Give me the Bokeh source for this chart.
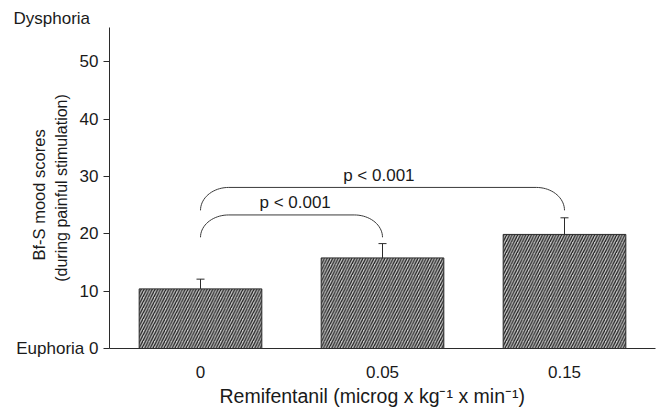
import numpy as np
from bokeh.plotting import figure
from bokeh.models import Range1d, Label, FixedTicker, Title
from bokeh.embed import file_html
from bokeh.resources import INLINE

# ---- data ----
doses = ["0", "0.05", "0.15"]
means = [10.4, 15.8, 19.9]
errors = [1.7, 2.5, 2.9]
bracket_pairs = [(0, 1), (0, 2)]
bracket_foot = [19.4, 24.1]
bracket_top = [23.3, 28.1]
bracket_text = ["p < 0.001", "p < 0.001"]
y_ticks = [0, 10, 20, 30, 40, 50]

FONT = "Liberation Sans"
DARK = "#2b2b2b"
TXT = "#1a1a1a"

p = figure(width=657, height=414, output_backend="svg", toolbar_location=None,
           x_range=Range1d(-0.5, 2.5), y_range=Range1d(0, 56),
           min_border_left=109, min_border_right=2, min_border_top=27,
           min_border_bottom=66)
p.outline_line_color = None
p.grid.visible = False
p.background_fill_color = "white"
p.border_fill_color = "white"

x = np.arange(len(doses))
p.vbar(x=x, top=means, width=0.674, bottom=0, fill_color="#c8c8c8",
       line_color=DARK, line_width=1, hatch_pattern="/", hatch_color="#1e1e1e",
       hatch_scale=5.5, hatch_weight=1.3)

tops = [m + e for m, e in zip(means, errors)]
p.segment(x0=x, y0=means, x1=x, y1=tops, line_color=DARK, line_width=1)
p.segment(x0=x - 0.022, y0=tops, x1=x + 0.022, y1=tops, line_color=DARK, line_width=1)

# brackets
rx = 0.155
t = np.linspace(0, np.pi / 2, 20)
text_dx = [0.02, -0.02]
for (a, b), foot, top, txt, dx in zip(bracket_pairs, bracket_foot, bracket_top,
                                      bracket_text, text_dx):
    ry = top - foot
    lx = a + rx - rx * np.cos(t)
    ly = foot + ry * np.sin(t)
    rxs = b - rx + rx * np.cos(t[::-1])
    rys = foot + ry * np.sin(t[::-1])
    xs = np.concatenate([lx, rxs])
    ys = np.concatenate([ly, rys])
    p.line(xs, ys, line_color="#3a3a3a", line_width=1)
    p.add_layout(Label(x=(a + b) / 2 + dx, y=top + 2.1, text=txt, text_align="center",
                       text_baseline="alphabetic", text_font=FONT,
                       text_font_size="17px", text_color=TXT))

# axes
p.xaxis.ticker = FixedTicker(ticks=list(x))
p.xaxis.major_label_overrides = {int(i): d for i, d in zip(x, doses)}
p.xaxis.major_tick_line_color = None
p.xaxis.minor_tick_line_color = None
p.xaxis.axis_line_color = DARK
p.xaxis.major_label_standoff = 11
p.xaxis.major_label_text_font = FONT
p.xaxis.major_label_text_font_size = "17px"
p.xaxis.major_label_text_color = TXT

p.add_layout(Title(text="Remifentanil (microg x kg\u207b\u00b9 x min\u207b\u00b9)",
                   align="left", offset=110, text_font=FONT,
                   text_font_style="normal", text_font_size="19.5px",
                   text_color=TXT, standoff=4), "below")

p.yaxis.ticker = FixedTicker(ticks=y_ticks)
p.yaxis.major_label_overrides = {0: "Euphoria 0"}
p.yaxis.minor_tick_line_color = None
p.yaxis.major_tick_in = 0
p.yaxis.major_tick_out = 6
p.yaxis.major_tick_line_color = DARK
p.yaxis.axis_line_color = DARK
p.yaxis.major_label_standoff = 5
p.yaxis.major_label_text_font = FONT
p.yaxis.major_label_text_font_size = "17px"
p.yaxis.major_label_text_color = TXT
p.yaxis.axis_label = "(during painful stimulation)"
p.yaxis.axis_label_text_font = FONT
p.yaxis.axis_label_text_font_style = "normal"
p.yaxis.axis_label_text_font_size = "16px"
p.yaxis.axis_label_text_color = TXT
p.yaxis.axis_label_standoff = -57

p.add_layout(Title(text="Bf-S mood scores", align="left", offset=88, text_font=FONT,
                   text_font_style="normal", text_font_size="16.5px",
                   text_color=TXT, standoff=5), "left")
p.add_layout(Title(text="Dysphoria", align="left", offset=-96, text_font=FONT,
                   text_font_style="normal", text_font_size="17px",
                   text_color=TXT, standoff=0, text_line_height=0.6), "above")

open("out.html", "w").write(file_html(p, INLINE))
